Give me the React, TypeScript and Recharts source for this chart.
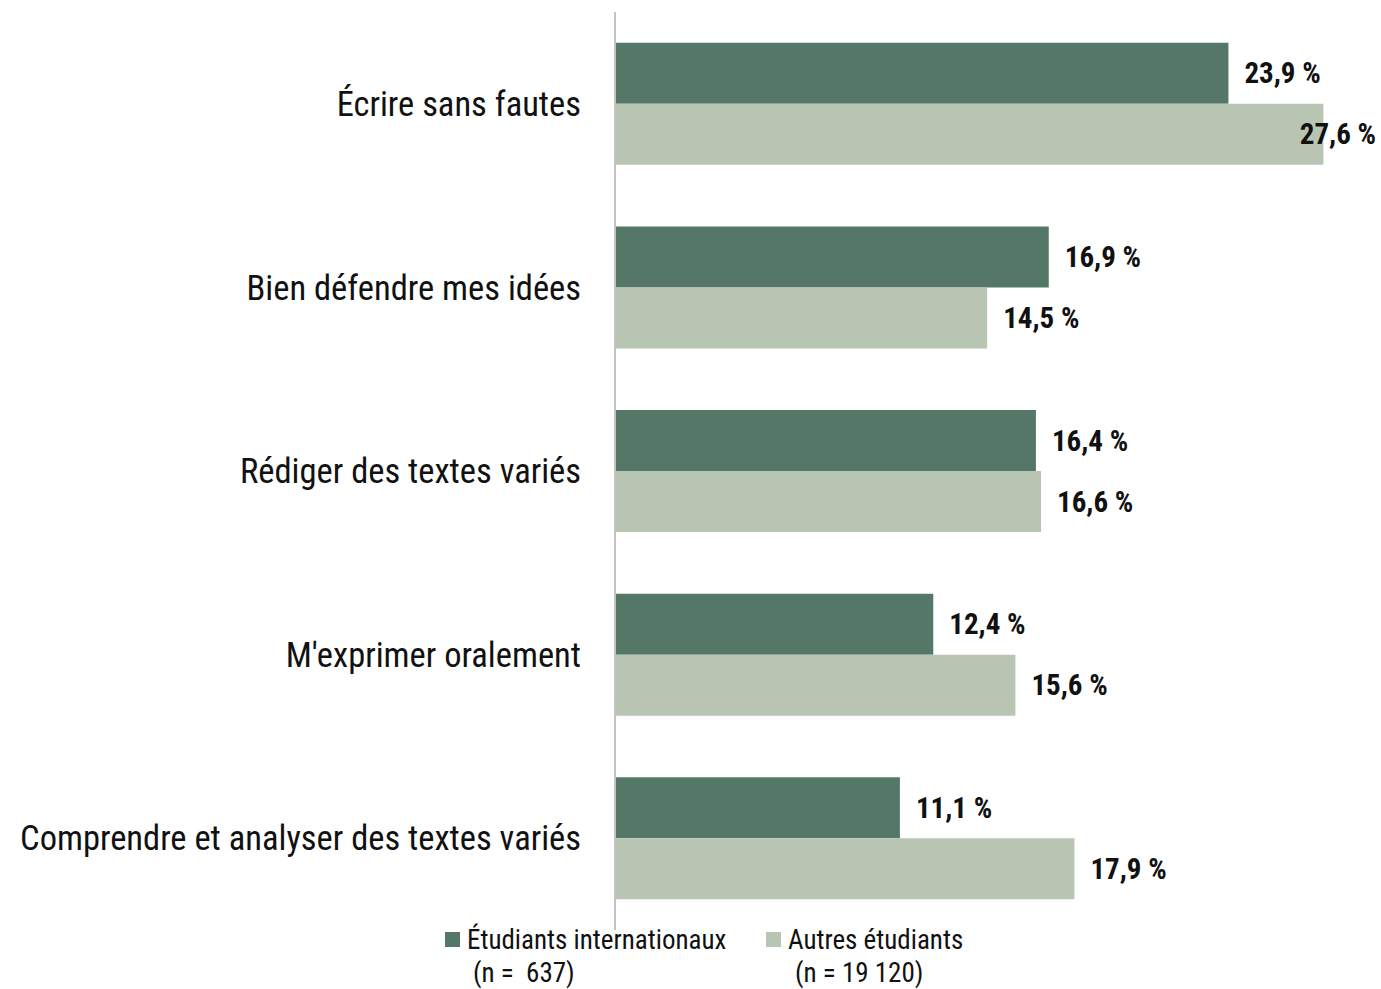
import React from 'react';
import { BarChart, Bar, XAxis, YAxis, LabelList } from 'recharts';

const categories = [
    'Écrire sans fautes',
    'Bien défendre mes idées',
    'Rédiger des textes variés',
    "M'exprimer oralement",
    'Comprendre et analyser des textes variés',
];
const internationaux = [23.9, 16.9, 16.4, 12.4, 11.1];
const autres = [27.6, 14.5, 16.6, 15.6, 17.9];
const seriesNames = ['Étudiants internationaux', 'Autres étudiants'];
const seriesCounts = ['(n =  637)', '(n = 19 120)'];

const DARK = '#557768';
const LIGHT = '#b9c5b3';
const FONT = '"Liberation Sans Narrow", "Arial Narrow", "Roboto Condensed", "Liberation Sans", sans-serif';
const CHART_W = 1381;

const data = categories.map((name, i) => ({
    name,
    intl: internationaux[i],
    autres: autres[i],
}));

const fmt = (v: any) => `${Number(v).toFixed(1).replace('.', ',')} %`;

// value label, pulled back inside the chart when it would spill past the right edge
const ValueLabel: React.FC<any> = ({ x, y, width, height, value }) => {
    const lx = Number(x) + Number(width) + 16;
    const estW = 80;
    const overflow = lx + estW > CHART_W - 4;
    return (
        <text
            x={overflow ? CHART_W - 5 : lx}
            y={Number(y) + Number(height) / 2}
            textAnchor={overflow ? 'end' : 'start'}
            dominantBaseline="central"
            fill="#111"
            fontSize={29}
            fontWeight="bold"
            fontFamily={FONT}
        >
            {fmt(value)}
        </text>
    );
};

const LegendBox: React.FC = () => {
    const items = [
        { color: DARK, left: 445, textLeft: 467, nLeft: 473 },
        { color: LIGHT, left: 766, textLeft: 788, nLeft: 795 },
    ];
    return (
        <>
            {items.map((it, i) => (
                <React.Fragment key={i}>
                    <div style={{ position: 'absolute', left: it.left, top: 932, width: 15, height: 15, background: it.color }} />
                    <div style={{ position: 'absolute', left: it.textLeft, top: 924, fontSize: 27, lineHeight: '32px', whiteSpace: 'pre', color: '#111' }}>
                        {seriesNames[i]}
                    </div>
                    <div style={{ position: 'absolute', left: it.nLeft, top: 957, fontSize: 27, lineHeight: '32px', whiteSpace: 'pre', color: '#111' }}>
                        {seriesCounts[i]}
                    </div>
                </React.Fragment>
            ))}
        </>
    );
};

const App: React.FC = () => {
    return (
        <div style={{ position: 'absolute', left: 0, top: 0, width: CHART_W, height: 989, overflow: 'hidden', background: '#fff', fontFamily: FONT }}>
            <BarChart
                width={1385}
                height={989}
                data={data}
                layout="vertical"
                margin={{ top: 12, right: 0, left: 0, bottom: 59 }}
                barCategoryGap="16.8%"
                barGap={0}
            >
                <XAxis type="number" domain={[0, 30]} hide />
                <YAxis
                    type="category"
                    dataKey="name"
                    width={615}
                    axisLine={{ stroke: '#c3c3c3', strokeWidth: 2 }}
                    tickLine={false}
                    tickSize={0}
                    tickMargin={34}
                    tick={{ fill: '#111', fontSize: 34.5, fontFamily: FONT }}
                />
                <Bar dataKey="intl" fill={DARK} isAnimationActive={false}>
                    <LabelList dataKey="intl" content={<ValueLabel />} />
                </Bar>
                <Bar dataKey="autres" fill={LIGHT} isAnimationActive={false}>
                    <LabelList dataKey="autres" content={<ValueLabel />} />
                </Bar>
            </BarChart>
            <LegendBox />
        </div>
    );
};

export default App;
